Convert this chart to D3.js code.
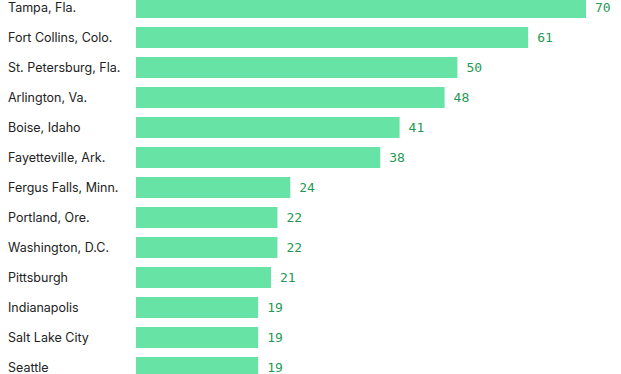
<!DOCTYPE html>
<html>
<head>
<meta charset="utf-8">
<script src="https://cdn.jsdelivr.net/npm/d3@7"></script>
<style>
    body { margin: 0; background: #fff; }
    svg { display: block; }
    .label { font-family: Inter, "Noto Sans", sans-serif; font-size: 12.5px; fill: #222; }
    .value { font-family: "DejaVu Sans Mono", "Liberation Mono", monospace; font-size: 13px; fill: #1f9a52; }
</style>
</head>
<body>
<svg width="621" height="374"></svg>
<script>
const cities = [
    "Tampa, Fla.", "Fort Collins, Colo.", "St. Petersburg, Fla.", "Arlington, Va.",
    "Boise, Idaho", "Fayetteville, Ark.", "Fergus Falls, Minn.", "Portland, Ore.",
    "Washington, D.C.", "Pittsburgh", "Indianapolis", "Salt Lake City", "Seattle"
]
const counts = [70, 61, 50, 48, 41, 38, 24, 22, 22, 21, 19, 19, 19]

const svg = d3.select("svg")

// bars start at 136, 70 reaches 586
const x = d3.scaleLinear().domain([0, 70]).range([136, 586])

// 13 rows, 30px step, first and last rows partly clipped
const y = d3.scaleBand()
    .domain(cities)
    .range([-7.5, 382.5])
    .paddingInner(0.3)
    .paddingOuter(0.15)

const rows = svg.selectAll("g.row")
    .data(cities.map((c, i) => ({ city: c, n: counts[i] })))
    .join("g")
    .attr("class", "row")

rows.append("rect")
    .attr("x", x(0))
    .attr("y", d => y(d.city))
    .attr("width", d => x(d.n) - x(0))
    .attr("height", y.bandwidth())
    .attr("fill", "#66e3a5")

rows.append("text")
    .attr("class", "label")
    .attr("x", 8)
    .attr("y", d => y(d.city) + y.bandwidth() / 2)
    .attr("dy", "0.35em")
    .text(d => d.city)

rows.append("text")
    .attr("class", "value")
    .attr("x", d => x(d.n) + 9)
    .attr("y", d => y(d.city) + y.bandwidth() / 2)
    .attr("dy", "0.35em")
    .text(d => d.n)
</script>
</body>
</html>
